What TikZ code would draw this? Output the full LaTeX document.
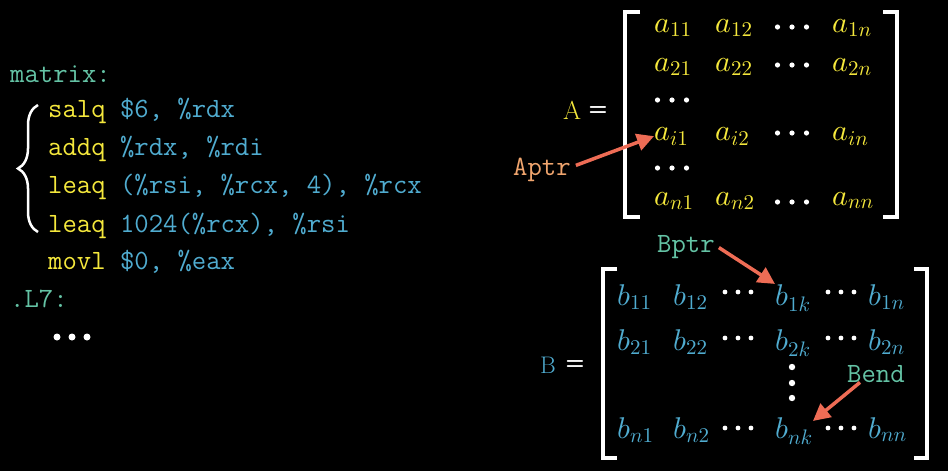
\documentclass[tikz,border=0pt]{standalone}
\usepackage{xcolor}
\usepackage{tikz}
\usetikzlibrary{arrows.meta,decorations.pathreplacing}
\DeclareFontShape{OML}{cmm}{m}{it}{<-> cmmi10}{}
\DeclareFontShape{OT1}{cmr}{m}{n}{<-> cmr10}{}
\definecolor{asmteal}{RGB}{100,195,165}
\definecolor{asmyellow}{RGB}{245,232,60}
\definecolor{asmblue}{RGB}{80,172,208}
\definecolor{ptrorange}{RGB}{240,165,110}
\definecolor{ptrred}{RGB}{238,108,85}
\newcommand{\mnem}[1]{\textcolor{asmyellow}{#1}}
\newcommand{\opnd}[1]{\textcolor{asmblue}{#1}}
\newcommand{\dotrow}[4]{\foreach \i in {-1,0,1} \fill[white] ({#1+(\i)*#3},#2) circle (#4pt);}

\begin{document}
\begin{tikzpicture}[x=1pt, y=1pt,
    code/.style={anchor=base west, inner sep=0pt, font=\fontsize{27.9}{30}\selectfont\ttfamily},
    entry/.style={anchor=base west, inner sep=0pt, font=\fontsize{30}{34}\selectfont},
    eqsign/.style={text=white, inner sep=0pt, font=\fontsize{22}{26}\selectfont\sffamily\bfseries},
    bracket/.style={draw=white, line width=4pt},
    ptr/.style={draw=ptrred, line width=3.5pt, -{Triangle[length=17pt,width=17pt]}}]
            \fill[black] (0,0) rectangle (948,-471);
            \useasboundingbox (0,0) rectangle (948,-471);

            % Assembly code
            \node[code, text=asmteal] (lblmatrix) at (10,-82) {matrix:};
            \node[code] (ins1) at (48,-117) {\mnem{salq} \opnd{\$6, \%rdx}};
            \node[code] (ins2) at (48,-155) {\mnem{addq} \opnd{\%rdx, \%rdi}};
            \node[code] (ins3) at (48,-193) {\mnem{leaq} \opnd{(\%rsi, \%rcx, 4), \%rcx}};
            \node[code] (ins4) at (48,-232) {\mnem{leaq} \opnd{1024(\%rcx), \%rsi}};
            \node[code] (ins5) at (48,-269) {\mnem{movl} \opnd{\$0, \%eax}};
            \node[code, text=asmteal] (lblloop) at (10,-307) {.L7:};
            \dotrow{72}{-337}{15}{3.5}
            \draw[white, line width=2.5pt, decorate, decoration={brace, amplitude=20pt}] (38,-232) -- (38,-105);

            % Matrix A
            \node[entry, text=asmyellow, font=\fontsize{26}{30}\selectfont] (lblA) at (563,-119) {A};
            \node[eqsign] (eqA) at (598,-111) {=};
            \foreach \r/\y in {1/32, 2/71, i/140, n/205}
                \foreach \c/\x in {1/654, 2/715, n/832}
                    \node[entry, text=asmyellow] (a-\r-\c) at (\x,-\y) {$a_{\r\c}$};
            \foreach \y in {27,65,133,202} {\dotrow{792}{-\y}{14.5}{2.6}}
            \dotrow{672}{-100}{14.5}{2.6}
            \dotrow{672}{-168}{14.5}{2.6}
            \draw[bracket] (640,-12) -- (625,-12) -- (625,-217) -- (640,-217);
            \draw[bracket] (883,-12) -- (897,-12) -- (897,-217) -- (883,-217);

            % Matrix B
            \node[entry, text=asmblue, font=\fontsize{24}{28}\selectfont] (lblB) at (540,-373) {B};
            \node[eqsign] (eqB) at (575,-365) {=};
            \foreach \r/\y in {1/305, 2/350, n/438}
                \foreach \c/\x in {1/617, 2/673, k/775, n/868}
                    \node[entry, text=asmblue] (b-\r-\c) at (\x,-\y) {$b_{\r\c}$};
            \foreach \y in {292,338,428} {\dotrow{738}{-\y}{13}{2.4} \dotrow{841}{-\y}{13}{2.4}}
            \foreach \y in {367,383,398} \fill[white] (792,-\y) circle (3.2pt);
            \draw[bracket] (617,-269) -- (603,-269) -- (603,-458) -- (617,-458);
            \draw[bracket] (914,-269) -- (927,-269) -- (927,-458) -- (914,-458);

            % Pointers
            \node[code, text=ptrorange] (aptr) at (513,-175) {Aptr};
            \node[code, text=asmteal] (bptr) at (657,-252) {Bptr};
            \node[code, text=asmteal] (bend) at (847,-382) {Bend};
            \draw[ptr] ([shift={(5pt,4pt)}]aptr.east) -- (a-i-1.west);
            \draw[ptr] ([shift={(4pt,-1pt)}]bptr.east) -- (b-1-k.north west);
            \draw[ptr] ([xshift=13pt]bend.south west) -- ([yshift=-4pt]b-n-k.north east);
        \end{tikzpicture}
\end{document}
